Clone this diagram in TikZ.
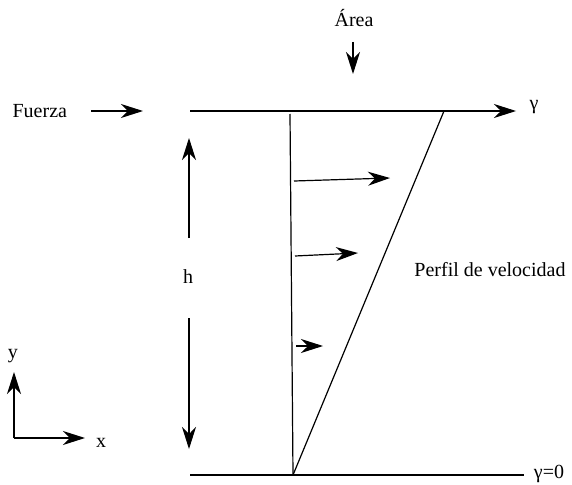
\documentclass[tikz,border=0pt]{standalone}
\usepackage{fontspec}
\setmainfont{Liberation Serif}
\usetikzlibrary{arrows.meta}

\begin{document}
\begin{tikzpicture}[x=1pt,y=-1pt,line width=1.2pt,
  >={Stealth[length=22pt,width=14pt,inset=7pt]},
  every node/.style={font=\fontsize{20}{22}\selectfont,inner sep=1pt}]
  \useasboundingbox (0,0) rectangle (572,484);
  % placas
  \coordinate (topL) at (190,111);
  \coordinate (topR) at (516,111);
  \coordinate (botL) at (190,475);
  \coordinate (botR) at (524,475);
  \draw[->] (topL) -- (topR);
  \draw (botL) -- (botR);
  \node (gamma) at (534,107) {γ};
  \node (gammacero) at (549,474) {γ=0};
  % fuerza y area
  \node[anchor=west] (fuerza) at (11,111) {Fuerza};
  \coordinate (fS) at (91,111);
  \coordinate (fE) at (143,111);
  \draw[->] (fS) -- (fE);
  \node (area) at (354,18) {Área};
  \coordinate (aS) at (353,42);
  \coordinate (aE) at (353,74);
  \draw[->] (aS) -- (aE);
  % perfil de velocidad
  \coordinate (wallT) at (290,114);
  \coordinate (wallB) at (293,475);
  \coordinate (tip) at (444,111);
  \draw (wallT) -- (wallB);
  \draw (wallB) -- (tip);
  \draw[->] (294,181) -- (390,178);
  \draw[->] (295,256) -- (358,253);
  \draw[->] (296,346) -- (323,346);
  \node (perfil) at (490,270) {Perfil de velocidad};
  % altura h
  \node (h) at (188,277) {h};
  \coordinate (hT) at (189,238);
  \coordinate (hB) at (189,318);
  \draw[->] (hT) -- (189,138);
  \draw[->] (hB) -- (189,449);
  % ejes
  \coordinate (O) at (14,438);
  \coordinate (yT) at (14,372);
  \coordinate (xT) at (85,438);
  \draw[->] (O) -- (yT);
  \draw[->] (O) -- (xT);
  \node (ylab) at (13,356) {y};
  \node (xlab) at (101,443) {x};
\end{tikzpicture}
\end{document}
